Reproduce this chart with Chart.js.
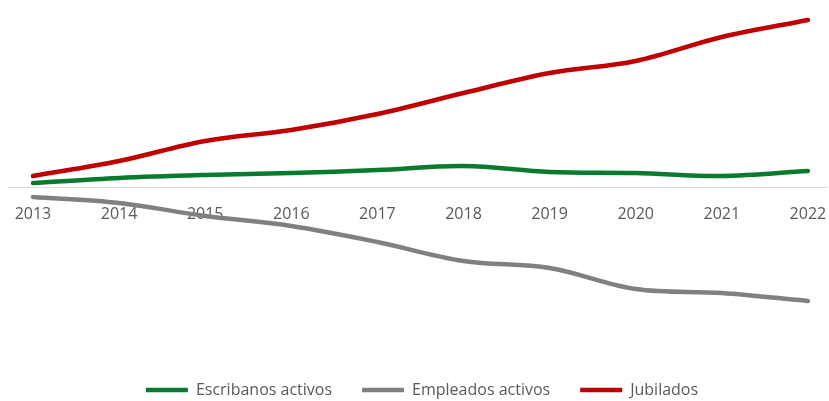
<!DOCTYPE html>
<html>
<head>
<meta charset="utf-8">
<script src="https://cdn.jsdelivr.net/npm/chart.js@4"></script>
<style>
  html, body { margin: 0; padding: 0; background: #fff; }
  #wrap { width: 829px; height: 401px; }
</style>
</head>
<body>
<div id="wrap"><canvas id="myChart" width="829" height="401"></canvas></div>
<script>
var years = [2013,2014,2015,2016,2017,2018,2019,2020,2021,2022];
// values (relative index, no y labels shown)
var escribanos = [4,9,12,14,17,21,15,14,11,16];
var empleados = [-10,-16,-29,-39,-55,-74,-81,-102,-106,-114];
var jubilados = [11,26,46,57,73,94,114,126,150,167];

function pts(vals) {
  return years.map(function (y, i) { return { x: y, y: vals[i] }; });
}

// nudge the legend like in the original
var legendShift = {
  id: 'legendShift',
  afterLayout: function (chart) {
    var l = chart.legend;
    l.left += 5; l.right += 5;
    l.top += 7; l.bottom += 7;
  }
};

var ctx = document.getElementById("myChart");
var myChart = new Chart(ctx, {
  type: 'line',
  data: {
    datasets: [
      {
        label: "Escribanos activos",
        data: pts(escribanos),
        borderColor: "#0a7a2f",
        backgroundColor: "#0a7a2f",
        borderWidth: 4.5,
        borderCapStyle: 'round',
        pointRadius: 0,
        tension: 0.35,
        fill: false
      },
      {
        label: "Empleados activos",
        data: pts(empleados),
        borderColor: "#808080",
        backgroundColor: "#808080",
        borderWidth: 4.5,
        borderCapStyle: 'round',
        pointRadius: 0,
        tension: 0.35,
        fill: false
      },
      {
        label: "Jubilados",
        data: pts(jubilados),
        borderColor: "#c00000",
        backgroundColor: "#c00000",
        borderWidth: 4.5,
        borderCapStyle: 'round',
        pointRadius: 0,
        tension: 0.35,
        fill: false
      }
    ]
  },
  options: {
    responsive: false,
    animation: false,
    layout: { padding: { left: 8, right: 3, top: 10, bottom: 0 } },
    plugins: {
      tooltip: { enabled: false },
      legend: {
        position: 'bottom',
        labels: {
          usePointStyle: true,
          pointStyle: 'line',
          pointStyleWidth: 42,
          padding: 30,
          color: '#595959',
          font: { family: 'Open Sans', size: 16 }
        }
      }
    },
    scales: {
      x: {
        type: 'linear',
        position: { y: 0 },
        min: 2012.71,
        max: 2022.21,
        grid: { display: false },
        border: { display: true, color: '#d9d9d9', width: 1 },
        ticks: {
          stepSize: 1,
          includeBounds: false,
          padding: 10,
          color: '#595959',
          font: { family: 'Open Sans', size: 16 },
          maxRotation: 0,
          callback: function (v) { return String(v); }
        },
        afterFit: function (scale) {
          scale.paddingLeft = 0;
          scale.paddingRight = 0;
        }
      },
      y: {
        display: false,
        min: -158,
        max: 177
      }
    }
  },
  plugins: [legendShift]
});
</script>
</body>
</html>
